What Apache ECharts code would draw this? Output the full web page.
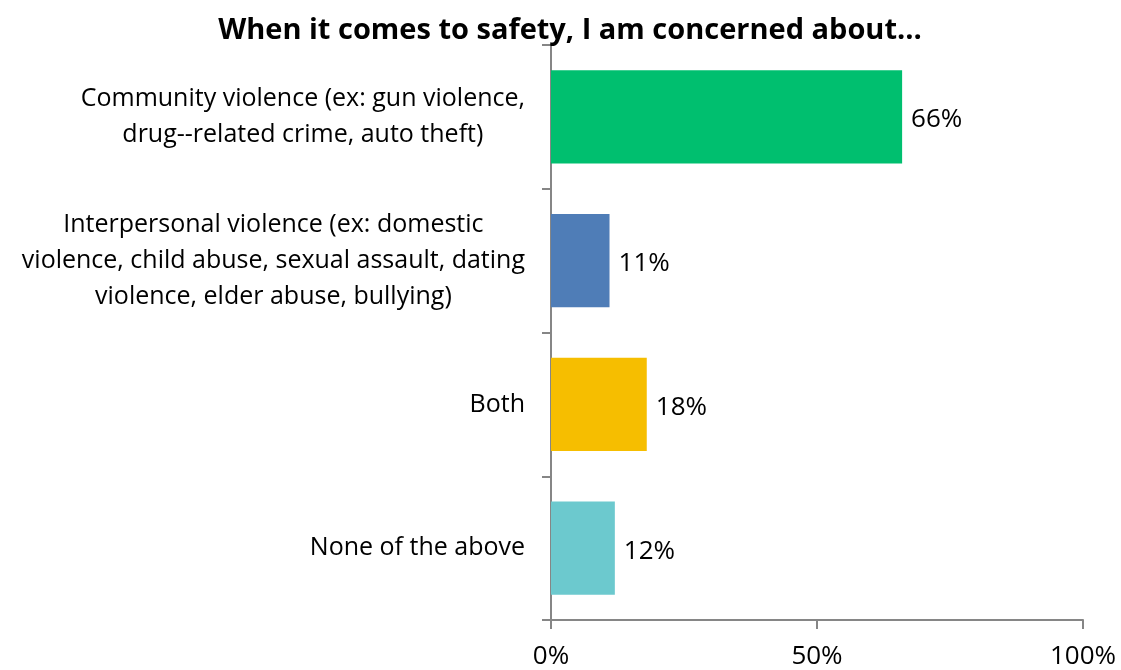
<!DOCTYPE html>
<html><head><meta charset="utf-8">
<script src="https://cdn.jsdelivr.net/npm/echarts@6/dist/echarts.min.js"></script>
<style>html,body{margin:0;padding:0;background:#fff}#c{width:1121px;height:670px}</style>
</head><body><div id="c"></div>
<script>
const categories = [
  "Community violence (ex: gun violence,\ndrug--related crime, auto theft)",
  "Interpersonal violence (ex: domestic\nviolence, child abuse, sexual assault, dating\nviolence, elder abuse, bullying)",
  "Both",
  "None of the above"
];
const values = [66, 11, 18, 12];
const colors = ["#00BF6F", "#4F7DB7", "#F6BE00", "#6CC9CE"];
const xTicks = [0, 50, 100];
const title = "When it comes to safety, I am concerned about…";

const font = "'Open Sans', sans-serif";
const chart = echarts.init(document.getElementById('c'));
chart.setOption({
  animation: false,
  title: {
    text: title, left: 565, top: 11, textAlign: 'center',
    textStyle: {fontFamily: font, fontWeight: 'bold', fontSize: 29, color: '#000'}
  },
  grid: {left: 551, right: 38, top: 45, bottom: 48, containLabel: false},
  xAxis: {
    type: 'value', min: 0, max: 100, interval: 50,
    axisLine: {show: true, lineStyle: {color: '#868686', width: 2}},
    axisTick: {show: true, length: 9, lineStyle: {color: '#868686', width: 2}},
    splitLine: {show: false},
    axisLabel: {margin: 24, fontFamily: font, fontSize: 26, color: '#000',
      formatter: v => xTicks.includes(v) ? v + '%' : ''}
  },
  yAxis: {
    type: 'category', inverse: true, data: categories,
    axisLine: {show: true, lineStyle: {color: '#868686', width: 2}},
    axisTick: {show: true, length: 9, lineStyle: {color: '#868686', width: 2}},
    axisLabel: {
      margin: 26, fontFamily: font, fontSize: 25, color: '#000', lineHeight: 36,
      formatter: v => v.split('\n').map(l => '{c|' + l + '}').join('\n'),
      rich: {c: {align: 'center', fontFamily: font, fontSize: 25, color: '#000', lineHeight: 36}}
    }
  },
  series: [{
    type: 'bar', barCategoryGap: '35%',
    data: values.map((v, i) => ({value: v, itemStyle: {color: colors[i]}})),
    label: {show: true, position: 'right', distance: 9, fontFamily: font, fontSize: 26, color: '#000',
      offset: [0, 3], formatter: p => p.value + '%'}
  }]
});
</script></body></html>
